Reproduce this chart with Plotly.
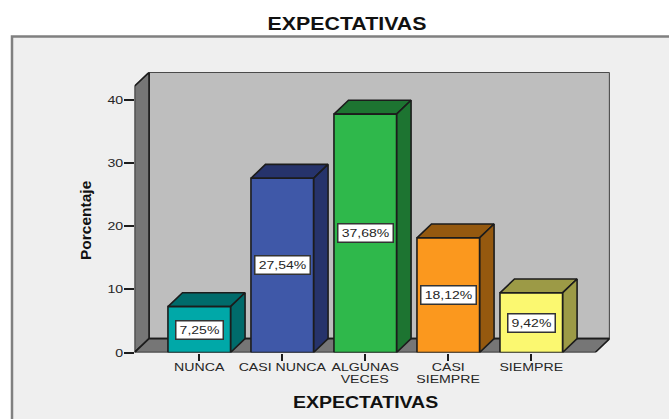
import plotly.graph_objects as go

# Survey responses, percentage of answers per category
categories = ["NUNCA", "CASI NUNCA", "ALGUNAS", "CASI", "SIEMPRE"]
categories_line2 = ["", "", "VECES", "SIEMPRE", ""]
percentages = [7.25, 27.54, 37.68, 18.12, 9.42]
value_labels = ["7,25%", "27,54%", "37,68%", "18,12%", "9,42%"]
y_ticks = [0, 10, 20, 30, 40]

front_colors = ["#00a8a8", "#3f58a8", "#2fb84b", "#fb981e", "#fbf870"]
shade_colors = ["#006b6b", "#26336b", "#1d7431", "#95590f", "#9c9a46"]

WIDTH, HEIGHT = 669, 419
BAR_HALF = 0.377
DEPTH_X = 0.175
DEPTH_Y = 2.2
X_MIN, X_MAX = -0.78, 4.945
Y_MAX = 44.3
FRONT_RIGHT = X_MAX - DEPTH_X
WALL_GREY = "#767676"
BACK_GREY = "#bebebe"
EDGE = "#1c1c1c"
TEXT = "#262626"
FONT = "Liberation Sans"


def face(xs, ys, color):
    return go.Scatter(
        x=xs + xs[:1], y=ys + ys[:1], mode="lines", fill="toself",
        fillcolor=color, line=dict(color=EDGE, width=1.6),
        hoverinfo="skip", showlegend=False,
    )


fig = go.Figure()

# Box walls: back, left side and floor
fig.add_trace(face([X_MIN + DEPTH_X, X_MAX, X_MAX, X_MIN + DEPTH_X],
                   [DEPTH_Y, DEPTH_Y, Y_MAX, Y_MAX], BACK_GREY))
fig.add_trace(face([X_MIN, X_MIN + DEPTH_X, X_MIN + DEPTH_X, X_MIN],
                   [0, DEPTH_Y, Y_MAX, Y_MAX - DEPTH_Y], WALL_GREY))
fig.add_trace(face([X_MIN, FRONT_RIGHT, X_MAX, X_MIN + DEPTH_X],
                   [0, 0, DEPTH_Y, DEPTH_Y], WALL_GREY))

# Each bar is a front, a top and a right-hand face
for i, v in enumerate(percentages):
    left, right = i - BAR_HALF, i + BAR_HALF
    fig.add_trace(face([left, right, right + DEPTH_X, left + DEPTH_X],
                       [v, v, v + DEPTH_Y, v + DEPTH_Y], shade_colors[i]))
    fig.add_trace(face([right, right + DEPTH_X, right + DEPTH_X, right],
                       [0, DEPTH_Y, v + DEPTH_Y, v], shade_colors[i]))
    fig.add_trace(face([left, right, right, left], [0, 0, v, v], front_colors[i]))

annotations = []
for i, v in enumerate(percentages):
    annotations.append(dict(
        x=i, y=v / 2, xref="x", yref="y", text=value_labels[i], showarrow=False,
        width=8 * len(value_labels[i]) + 4, height=15,
        bgcolor="white", bordercolor="#333333", borderwidth=1.5, borderpad=1,
        font=dict(family=FONT, size=11.5, color=TEXT),
    ))
    if categories_line2[i]:
        annotations.append(dict(
            x=i, y=0, xref="x", yref="y", yanchor="top", yshift=-17,
            text=categories_line2[i], showarrow=False,
            font=dict(family=FONT, size=11.6, color=TEXT),
        ))

annotations.append(dict(
    x=2, y=0, xref="x", yref="y", yanchor="middle", yshift=-50,
    text="EXPECTATIVAS", showarrow=False,
    font=dict(family=FONT, size=16, weight=700, color="#111111"),
))
annotations.append(dict(
    x=85 / WIDTH, y=1 - 220 / HEIGHT, xref="paper", yref="paper",
    xanchor="center", yanchor="middle", text="Porcentaje",
    textangle=-90, showarrow=False,
    font=dict(family=FONT, size=15.5, weight=700, color="#111111"),
))

fig.update_layout(
    width=WIDTH, height=HEIGHT,
    margin=dict(l=0, r=0, t=0, b=0, pad=0),
    paper_bgcolor="white", plot_bgcolor="rgba(0,0,0,0)",
    showlegend=False,
    title=dict(
        text="EXPECTATIVAS", x=347 / WIDTH, xanchor="center",
        y=1 - 24 / HEIGHT, yanchor="middle",
        font=dict(family=FONT, size=17.5, weight=700, color="#111111"),
    ),
    xaxis=dict(
        domain=[134.5 / WIDTH, 609.7 / WIDTH], range=[X_MIN, X_MAX],
        tickmode="array", tickvals=list(range(len(categories))), ticktext=categories,
        ticks="outside", ticklen=7, tickwidth=1.6, tickcolor=EDGE,
        ticklabelstandoff=-3,
        tickfont=dict(family=FONT, size=11.6, color=TEXT),
        showgrid=False, zeroline=False, showline=False, tickangle=0, automargin=False,
    ),
    yaxis=dict(
        domain=[(HEIGHT - 352.5) / HEIGHT, (HEIGHT - 72.3) / HEIGHT], range=[0, Y_MAX],
        tickmode="array", tickvals=y_ticks,
        ticks="outside", ticklen=10, tickwidth=1.6, tickcolor=EDGE,
        ticklabelstandoff=-2,
        tickfont=dict(family=FONT, size=11.6, color=TEXT),
        showgrid=False, zeroline=False, showline=False, automargin=False,
    ),
    shapes=[dict(
        type="rect", xref="paper", yref="paper", layer="below",
        x0=12 / WIDTH, x1=1.02, y0=-0.02, y1=1 - 36.5 / HEIGHT,
        fillcolor="#efefef", line=dict(color="#808080", width=2.5),
    )],
    annotations=annotations,
)

# The chart's lettering is set wide: stretch every horizontal text to 1.22x its natural length
WIDEN_TEXT = """
document.querySelectorAll('svg text').forEach(function (t) {
  if (t.textContent === 'Porcentaje' || !t.textContent) return;
  t.setAttribute('textLength', t.getComputedTextLength() * 1.22);
  t.setAttribute('lengthAdjust', 'spacingAndGlyphs');
});
"""

fig.write_html("out.html", post_script=WIDEN_TEXT)
